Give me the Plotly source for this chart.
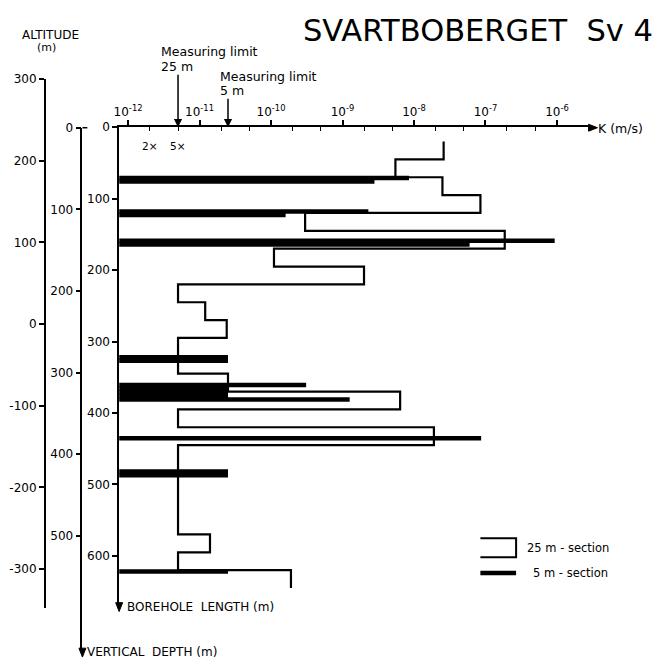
import math
import plotly.graph_objects as go

W, H = 661, 664
FONT = "DejaVu Sans"

# --- data -----------------------------------------------------------------
# 25 m packer sections: start along the borehole (m) and hydraulic conductivity K (m/s)
sec25_start = [20, 45, 70, 95, 120, 145, 170, 195, 220, 245, 270, 295, 320,
               345, 370, 395, 420, 445, 470, 495, 520, 545, 570, 595, 620]
sec25_k = [2.6e-8, 5.5e-9, 2.5e-8, 8.5e-8, 3.0e-10, 1.86e-7, 1.1e-10, 2.0e-9,
           5e-12, 1.2e-11, 2.4e-11, 5e-12, 5e-12, 2.5e-11, 6.4e-9, 5e-12,
           1.9e-8, 5e-12, 5e-12, 5e-12, 5e-12, 5e-12, 1.4e-11, 5e-12, 1.9e-10]
SEC25_LEN = 25

# 5 m packer sections: mid point along the borehole (m) and K (m/s)
sec5_mid = [71, 76, 118, 123, 159, 164, 322, 327, 361, 366, 371, 376, 381,
            435.5, 482, 487, 622]
sec5_k = [8.5e-9, 2.8e-9, 2.3e-9, 1.6e-10, 9.3e-7, 6.0e-8, 2.5e-11, 2.5e-11,
          3.1e-10, 2.5e-11, 2.5e-11, 2.5e-11, 1.26e-9, 8.7e-8, 2.5e-11,
          2.5e-11, 2.5e-11]

# measuring limits (m/s)
limit_25m = 5e-12
limit_5m = 2.5e-11

# axis ticks
k_decades = [1e-12, 1e-11, 1e-10, 1e-9, 1e-8, 1e-7, 1e-6]
k_decade_text = ["10<sup>-12</sup>", "10<sup>-11</sup>", "10<sup>-10</sup>",
                 "10<sup>-9</sup>", "10<sup>-8</sup>", "10<sup>-7</sup>",
                 "10<sup>-6</sup>"]
k_minor = [m * d for d in k_decades[:-1] for m in (2, 5)]
borehole_ticks = [0, 100, 200, 300, 400, 500, 600]
depth_ticks = [0, 100, 200, 300, 400, 500]
altitude_ticks = [300, 200, 100, 0, -100, -200, -300]


# --- layout helpers (pixel -> paper) ----------------------------------------
def px(x):
    return x / W


def py(y):
    return 1 - y / H


K_LOG_MIN, K_LOG_MAX = -12.125, -5.53
K_AXIS_MIN = 10 ** K_LOG_MIN

# --- traces -----------------------------------------------------------------
step_x, step_y = [], []
for s, k in zip(sec25_start, sec25_k):
    step_x += [k, k]
    step_y += [s, s + SEC25_LEN]

bar_x, bar_y = [], []
for m, k in zip(sec5_mid, sec5_k):
    bar_x += [K_AXIS_MIN, k, None]
    bar_y += [m, m, None]

fig = go.Figure()
fig.add_trace(go.Scatter(x=bar_x, y=bar_y, mode="lines",
                         line=dict(color="black", width=4.5),
                         showlegend=False, hoverinfo="skip"))
fig.add_trace(go.Scatter(x=step_x, y=step_y, mode="lines",
                         line=dict(color="black", width=2.2),
                         showlegend=False, hoverinfo="skip"))
# empty traces that carry the vertical-depth and altitude scales
fig.add_trace(go.Scatter(x=[0], y=[0], xaxis="x3", yaxis="y2", mode="markers",
                         marker=dict(size=0.1, opacity=0),
                         showlegend=False, hoverinfo="skip"))
fig.add_trace(go.Scatter(x=[0], y=[0], xaxis="x4", yaxis="y3", mode="markers",
                         marker=dict(size=0.1, opacity=0),
                         showlegend=False, hoverinfo="skip"))
fig.add_trace(go.Scatter(x=[1e-9], y=[0], xaxis="x2", yaxis="y",
                         mode="markers", marker=dict(size=0.1, opacity=0),
                         showlegend=False, hoverinfo="skip"))

tickfont = dict(family=FONT, size=12, color="black")
yaxis_common = dict(showline=True, linecolor="black", linewidth=1.5,
                    ticks="outside", ticklen=5, tickwidth=1.5,
                    tickcolor="black", showgrid=False, zeroline=False,
                    tickfont=tickfont, side="left", tickmode="array")
hidden_x = dict(visible=False, range=[0, 1], fixedrange=True)

fig.update_layout(
    width=W, height=H,
    margin=dict(l=0, r=0, t=0, b=0),
    paper_bgcolor="white", plot_bgcolor="rgba(0,0,0,0)",
    font=dict(family=FONT, color="black"),
    xaxis=dict(type="log", domain=[px(115), px(590)],
               range=[K_LOG_MIN, K_LOG_MAX], anchor="y", side="top",
               showline=True, linecolor="black", linewidth=1.5,
               ticks="outside", ticklen=5, tickwidth=1.5, tickcolor="black",
               tickmode="array", tickvals=k_decades, ticktext=k_decade_text,
               showgrid=False, zeroline=False, tickfont=tickfont),
    # 2x and 5x ticks drawn on the inside of the K axis
    xaxis2=dict(type="log", overlaying="x", range=[K_LOG_MIN, K_LOG_MAX],
                anchor="y", side="top", showline=False,
                ticks="inside", ticklen=4, tickwidth=1.2, tickcolor="black",
                tickmode="array", tickvals=k_minor, showticklabels=False,
                showgrid=False, zeroline=False),
    xaxis3=dict(domain=[px(78), px(79)], anchor="y2", **hidden_x),
    xaxis4=dict(domain=[px(41), px(42)], anchor="y3", **hidden_x),
    yaxis=dict(domain=[py(605), py(121.5)],
               range=[(605 - 121.5) / 0.722, 0], anchor="x",
               tickvals=borehole_ticks,
               ticktext=[str(v) for v in borehole_ticks], **yaxis_common),
    yaxis2=dict(domain=[py(650), py(122)], range=[(650 - 122) / 0.825, 0],
                anchor="x3", tickvals=depth_ticks,
                ticktext=[str(v) for v in depth_ticks], **yaxis_common),
    yaxis3=dict(domain=[py(607), py(73)],
                range=[300 - (607 - 73) / 0.825, 300],
                anchor="x4", tickvals=altitude_ticks,
                ticktext=[str(v) for v in altitude_ticks], **yaxis_common),
)

ann = []


def text(x, y, s, size=11, xanchor="left"):
    ann.append(dict(x=px(x), y=py(y), xref="paper", yref="paper", text=s,
                    showarrow=False, xanchor=xanchor, yanchor="middle",
                    font=dict(family=FONT, size=size, color="black")))


text(298, 24, "SVARTBOBERGET  Sv 4", size=30.5)
text(46, 28, "ALTITUDE", size=12, xanchor="center")
text(42, 41, "(m)", size=11, xanchor="center")
text(155, 45, "Measuring limit", size=12.5)
text(155, 60, "25 m", size=12.5)
text(215, 70, "Measuring limit", size=12.5)
text(215, 84, "5 m", size=12.5)
text(596, 123, "K (m/s)", size=12.5)
text(146, 140, "2×", size=10.5, xanchor="center")
text(174, 140, "5×", size=10.5, xanchor="center")
text(121, 606, "BOREHOLE  LENGTH (m)", size=12)
text(81, 652, "VERTICAL  DEPTH (m)", size=12)
text(524, 547, "25 m - section", size=11.5)
text(530, 572, "5 m - section", size=11.5)

# measuring-limit arrows pointing at the K axis
for lim, tail in ((limit_25m, -54), (limit_5m, -30)):
    ann.append(dict(x=math.log10(lim), y=0, xref="x", yref="y", text="",
                    showarrow=True, ax=0, ay=tail, arrowhead=2,
                    arrowsize=1.1, arrowwidth=1.5, arrowcolor="black"))

fig.update_layout(annotations=ann)


def triangle(points):
    pts = [f"{px(a)},{py(b)}" for a, b in points]
    return "M " + " L ".join(pts) + " Z"


# arrow heads at the open ends of the axes
for tri in (
    [(597, 122), (588, 118.5), (588, 125.5)],   # K axis
    [(115, 611), (111.5, 602), (118.5, 602)],   # borehole length
    [(78, 657), (74.5, 648), (81.5, 648)],      # vertical depth
):
    fig.add_shape(type="path", xref="paper", yref="paper", path=triangle(tri),
                  fillcolor="black", line=dict(color="black", width=1))

# small cross tick at the top of the vertical-depth scale
fig.add_shape(type="line", xref="paper", yref="paper",
              x0=px(78), x1=px(83), y0=py(122), y1=py(122),
              line=dict(color="black", width=1.5))

# legend glyphs
fig.add_shape(type="path", xref="paper", yref="paper",
              path=f"M {px(479)},{py(537)} L {px(515)},{py(537)} "
                   f"L {px(515)},{py(556)} L {px(479)},{py(556)}",
              line=dict(color="black", width=2))
fig.add_shape(type="line", xref="paper", yref="paper",
              x0=px(479), x1=px(515), y0=py(572), y1=py(572),
              line=dict(color="black", width=4.5))

fig.write_html("out.html")
